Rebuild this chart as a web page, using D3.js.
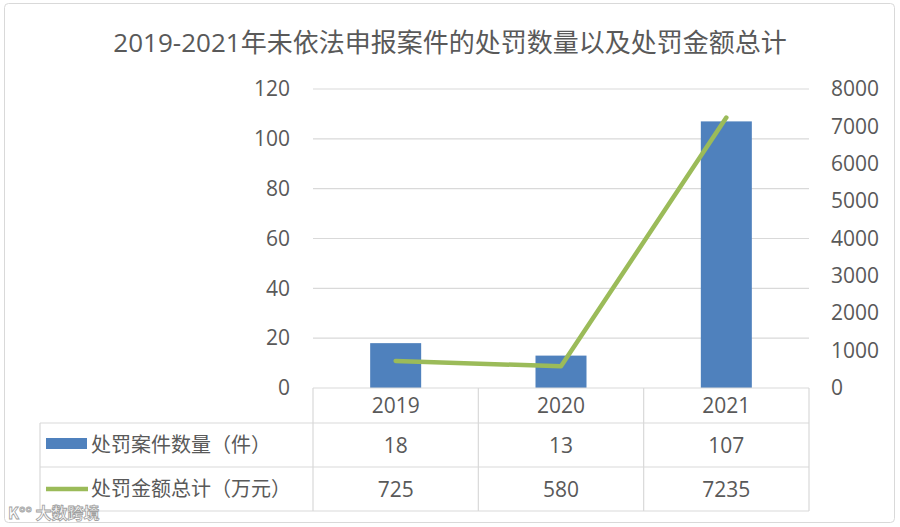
<!DOCTYPE html>
<html>
<head>
<meta charset="utf-8">
<script src="https://cdn.jsdelivr.net/npm/d3@7"></script>
<style>
  html, body { margin: 0; padding: 0; background: #fff; }
  svg { display: block; }
</style>
</head>
<body>
<script>
// data
const years = ["2019", "2020", "2021"]
const caseCounts = [18, 13, 107]
const fineTotals = [725, 580, 7235]
const leftTicks = [0, 20, 40, 60, 80, 100, 120]
const rightTicks = [0, 1000, 2000, 3000, 4000, 5000, 6000, 7000, 8000]
const seriesNames = ["处罚案件数量（件）", "处罚金额总计（万元）"]
const title = "2019-2021年未依法申报案件的处罚数量以及处罚金额总计"

const width = 900, height = 527
const plot = {left: 313, right: 809, top: 89, bottom: 388}
const rowY = [388, 423, 467, 511]
const tableLeft = 40
const font = "'Open Sans', 'Noto Sans CJK SC', sans-serif"
const numSize = 21, cjkSize = 20
const textColor = "#595959"
const blue = "#4F81BD", green = "#9BBB59", grid = "#d9d9d9"

const x = d3.scaleBand(years, [plot.left, plot.right])
const yL = d3.scaleLinear([0, 120], [plot.bottom, plot.top])
const yR = d3.scaleLinear([0, 8000], [plot.bottom, plot.top])

const svg = d3.select("body").append("svg")
    .attr("width", width)
    .attr("height", height)
    .attr("font-family", font)

// outer frame
svg.append("rect")
    .attr("x", 4.5).attr("y", 3.5)
    .attr("width", 890).attr("height", 519)
    .attr("rx", 4)
    .attr("fill", "#fff")
    .attr("stroke", "#d9d9d9")

svg.append("text")
    .attr("x", 450).attr("y", 52)
    .attr("text-anchor", "middle")
    .attr("font-size", 26)
    .attr("fill", textColor)
    .text(title)

// gridlines
svg.append("g")
    .selectAll("line")
    .data(leftTicks.slice(1))
    .join("line")
      .attr("x1", plot.left).attr("x2", plot.right)
      .attr("y1", d => yL(d)).attr("y2", d => yL(d))
      .attr("stroke", grid)
      .attr("stroke-width", 1.2)

// left axis
svg.append("g")
    .attr("transform", `translate(${plot.left},0)`)
    .call(d3.axisLeft(yL).tickValues(leftTicks).tickSize(0).tickPadding(23))
    .call(g => g.select(".domain").remove())
    .call(g => g.selectAll("text").attr("font-size", numSize).attr("fill", textColor).attr("font-family", font))

// right axis
svg.append("g")
    .attr("transform", `translate(${plot.right},0)`)
    .call(d3.axisRight(yR).tickValues(rightTicks).tickFormat(d3.format("d")).tickSize(0).tickPadding(22))
    .call(g => g.select(".domain").remove())
    .call(g => g.selectAll("text").attr("font-size", numSize).attr("fill", textColor).attr("font-family", font))

// bars
const barW = 51
svg.append("g")
    .selectAll("rect")
    .data(years)
    .join("rect")
      .attr("x", (d, i) => x(d) + x.bandwidth() / 2 - barW / 2)
      .attr("y", (d, i) => yL(caseCounts[i]))
      .attr("width", barW)
      .attr("height", (d, i) => yL(0) - yL(caseCounts[i]))
      .attr("fill", blue)

// line
const line = d3.line()
    .x(d => x(d.year) + x.bandwidth() / 2)
    .y(d => yR(d.value))
svg.append("path")
    .datum(years.map((year, i) => ({year, value: fineTotals[i]})))
    .attr("d", line)
    .attr("fill", "none")
    .attr("stroke", green)
    .attr("stroke-width", 4.5)
    .attr("stroke-linejoin", "round")
    .attr("stroke-linecap", "round")

// data table
const table = svg.append("g")
    .attr("stroke", grid)
    .attr("stroke-width", 1.2)
table.append("line")
    .attr("x1", plot.left).attr("x2", plot.right)
    .attr("y1", rowY[0]).attr("y2", rowY[0])
rowY.slice(1).forEach(y => {
  table.append("line")
      .attr("x1", tableLeft).attr("x2", plot.right)
      .attr("y1", y).attr("y2", y)
})
table.append("line")
    .attr("x1", tableLeft).attr("x2", tableLeft)
    .attr("y1", rowY[1]).attr("y2", rowY[3])
years.forEach(d => {
  table.append("line")
      .attr("x1", x(d)).attr("x2", x(d))
      .attr("y1", rowY[0]).attr("y2", rowY[3])
})
table.append("line")
    .attr("x1", plot.right).attr("x2", plot.right)
    .attr("y1", rowY[0]).attr("y2", rowY[3])

const rows = [years, caseCounts, fineTotals]
rows.forEach((vals, r) => {
  svg.append("g")
      .selectAll("text")
      .data(vals)
      .join("text")
        .attr("x", (d, i) => x(years[i]) + x.bandwidth() / 2)
        .attr("y", (rowY[r] + rowY[r + 1]) / 2)
        .attr("dy", "0.36em")
        .attr("text-anchor", "middle")
        .attr("font-size", numSize)
        .attr("fill", textColor)
        .text(d => d)
})

// legend keys in the table
svg.append("rect")
    .attr("x", 46).attr("y", 438)
    .attr("width", 41).attr("height", 11)
    .attr("fill", blue)
svg.append("line")
    .attr("x1", 46).attr("x2", 88)
    .attr("y1", 489).attr("y2", 489)
    .attr("stroke", green)
    .attr("stroke-width", 4.5)
svg.append("g")
    .selectAll("text")
    .data(seriesNames)
    .join("text")
      .attr("x", 91)
      .attr("y", (d, i) => (rowY[i + 1] + rowY[i + 2]) / 2)
      .attr("dy", "0.36em")
      .attr("font-size", cjkSize)
      .attr("fill", textColor)
      .text(d => d)

// watermark
const wm = svg.append("g").attr("font-family", "'Noto Sans CJK SC', sans-serif")
wm.append("text")
    .attr("x", 8).attr("y", 519)
    .attr("font-size", 16)
    .attr("font-weight", "bold")
    .attr("fill", "#fff")
    .attr("stroke", "#a0a0a0")
    .attr("stroke-width", 0.8)
    .text("K°° 大数跨境")
</script>
</body>
</html>
